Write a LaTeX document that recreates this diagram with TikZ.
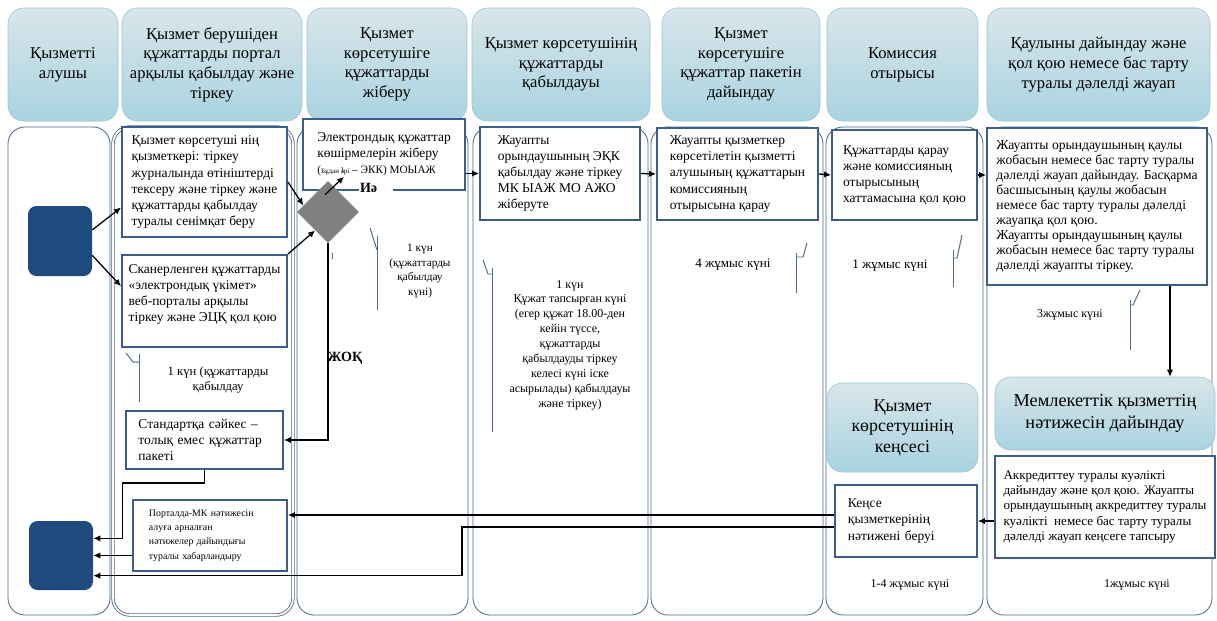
\documentclass[tikz,border=0pt]{standalone}
\usepackage{fontspec}
\setmainfont{Liberation Serif}
\usepackage{tikz}
\usetikzlibrary{positioning,calc,shapes.geometric,arrows.meta}
\definecolor{lanegrey}{rgb}{0.31,0.42,0.56}
\definecolor{boxblue}{rgb}{0.23,0.37,0.56}
\definecolor{clientblue}{rgb}{0.12,0.29,0.49}
\definecolor{hdrtop}{rgb}{0.85,0.90,0.92}
\definecolor{hdrbottom}{rgb}{0.66,0.83,0.88}
\definecolor{hdrline}{rgb}{0.62,0.76,0.82}
\definecolor{diagrey}{rgb}{0.50,0.50,0.50}
\tikzstyle{lane} = [draw=lanegrey, rounded corners=12pt, fill=white, line width=0.6pt]
\tikzstyle{hdr} = [draw=hdrline, rounded corners=11pt, top color=hdrtop, bottom color=hdrbottom, align=center, font=\fontsize{11.8}{14}\selectfont]
\tikzstyle{stepbox} = [draw=boxblue, line width=1.3pt, fill=white, align=left, font=\fontsize{9.6}{11.4}\selectfont]
\tikzstyle{client} = [fill=clientblue, rounded corners=6pt]
\tikzstyle{note} = [align=center, font=\fontsize{8.5}{10.6}\selectfont]
\tikzstyle{callout} = [draw=lanegrey, line width=0.7pt]
\tikzstyle{arrow} = [line width=0.9pt, -{Latex[length=5pt,width=4.5pt]}]
\tikzset{sz/.style 2 args={minimum width=#1*0.025cm, minimum height=#2*0.025cm}}

\begin{document}
\begin{tikzpicture}[x=0.025cm, y=-0.025cm]
\path[use as bounding box, fill=white] (0,0) rectangle (1217,620);
\node[hdr, sz={110}{113}] (h1) at (63,64.5) {Қызметті\\алушы};
\node[hdr, sz={180}{113}] (h2) at (212,64.5) {Қызмет берушіден\\құжаттарды портал\\арқылы қабылдау және\\тіркеу};
\node[hdr, sz={160}{113}] (h3) at (387,64.5) {Қызмет\\көрсетушіге\\құжаттарды\\жіберу};
\node[hdr, sz={178}{113}] (h4) at (561,64.5) {Қызмет көрсетушінің\\құжаттарды\\қабылдауы};
\node[hdr, sz={158}{113}] (h5) at (741,64.5) {Қызмет\\көрсетушіге\\құжаттар пакетін\\дайындау};
\node[hdr, sz={151}{113}] (h6) at (902.5,64.5) {Комиссия\\отырысы};
\node[hdr, sz={223}{113}] (h7) at (1098.5,64.5) {Қаулыны дайындау және\\қол қою немесе бас тарту\\туралы дәлелді жауап};
\node[lane, sz={102}{488}] (l1) at (59,371) {};
\node[lane, sz={180}{488}, double=white, double distance=1.2pt] (l2) at (203,371) {};
\node[lane, sz={171}{488}] (l3) at (382.5,371) {};
\node[lane, sz={175}{488}] (l4) at (560.5,371) {};
\node[lane, sz={172}{488}] (l5) at (737,371) {};
\node[lane, sz={157}{488}] (l6) at (904.5,371) {};
\node[lane, sz={225}{488}] (l7) at (1099.5,371) {};
\node[client, sz={64}{70}] (cA) at (60,241) {};
\node[client, sz={64}{69}] (cB) at (61,555.5) {};
\node[stepbox, sz={165}{110}] (box1) at (204.5,182) {Қызмет көрсетуші нің\\қызметкері: тіркеу\\журналында өтініштерді\\тексеру және тіркеу және\\құжаттарды қабылдау\\туралы сенімқат беру};
\node[stepbox, sz={165}{92}] (box2) at (204.5,301) {Сканерленген құжаттарды\\«электрондық үкімет»\\веб-порталы арқылы\\тіркеу және ЭЦҚ қол қою\\ \mbox{}};
\node[stepbox, sz={157}{58}, text width=3.3cm] (box3) at (204.5,440) {Стандартқа сәйкес –\\толық емес құжаттар\\пакеті};
\node[stepbox, sz={154}{71}, text width=3.05cm, font=\fontsize{7}{10.2}\selectfont] (box4) at (210,535.5) {Порталда-МК нәтижесін\\алуға арналған\\нәтижелер дайындығы\\туралы хабарландыру};
\node[stepbox, sz={162}{71}] (box5) at (384,154.5) {Электрондық құжаттар\\көшірмелерін жіберу\\{\fontsize{8}{10}\selectfont({\fontsize{5}{6}\selectfont Бұдан әрі} – ЭКК) МОЫАЖ}};
\node[stepbox, sz={160}{93}] (box6) at (560,173.5) {Жауапты\\орындаушының ЭҚК\\қабылдау және тіркеу\\МК ЫАЖ МО АЖО\\жіберуте};
\node[stepbox, sz={161}{92}] (box7) at (737.5,174) {Жауапты қызметкер\\көрсетілетін қызметті\\алушының құжаттарын\\комиссияның\\отырысына қарау};
\node[stepbox, sz={145}{90}] (box8) at (904.5,175) {Құжаттарды қарау\\және комиссияның\\отырысының\\хаттамасына қол қою};
\node[stepbox, sz={220}{157}, font=\fontsize{9.7}{10.6}\selectfont] (box9) at (1097,206.5) {Жауапты орындаушының қаулы\\жобасын немесе бас тарту туралы\\дәлелді жауап дайындау. Басқарма\\басшысының қаулы жобасын\\немесе бас тарту туралы дәлелді\\жауапқа қол қою.\\Жауапты орындаушының қаулы\\жобасын немесе бас тарту туралы\\дәлелді жауапты тіркеу.};
\node[hdr, sz={220}{73}, font=\fontsize{13}{15.5}\selectfont] (res) at (1105,413.5) {Мемлекеттік қызметтің\\нәтижесін дайындау};
\node[stepbox, sz={220}{102}, font=\fontsize{9.3}{10.8}\selectfont] (box10) at (1105,507) {Аккредиттеу туралы куәлікті\\дайындау және қол қою. Жауапты\\орындаушының аккредиттеу туралы\\куәлікті \ немесе бас тарту туралы\\дәлелді жауап кеңсеге тапсыру};
\node[hdr, sz={151}{89}, font=\fontsize{12.7}{14.5}\selectfont] (office) at (902.5,427.5) {Қызмет\\көрсетушінің\\кеңсесі};
\node[stepbox, sz={142}{72}, text width=2.9cm] (box11) at (906,521) {Кеңсе\\қызметкерінің\\нәтижені беруі};
\node[diamond, fill=diagrey, sz={62}{62}, inner sep=0pt] (dia) at (328,212) {};
\node[fill=white, text width=0.8cm, align=left, inner sep=1pt, font=\bfseries\fontsize{10}{12}\selectfont] (yes) at (376,188) {Иә};
\node[font=\bfseries\fontsize{10}{12}\selectfont] (no) at (345,358) {ЖОҚ};
\node[font=\tiny] (br1) at (342,171) {]};
\node[font=\tiny] (br2) at (332,257) {]};
\node[note, font=\fontsize{9}{11}\selectfont] (n1) at (218,380) {1 күн (құжаттарды\\қабылдау};
\node[note, font=\fontsize{8}{10.3}\selectfont] (n2) at (420,271) {1 күн\\(құжаттарды\\қабылдау\\күні)};
\node[note] (n3) at (570,345) {1 күн\\Құжат тапсырған күні\\(егер құжат 18.00-ден\\кейін түссе,\\құжаттарды\\қабылдауды тіркеу\\келесі күні іске\\асырылады) қабылдауы\\және тіркеу)};
\node[note, font=\fontsize{9.3}{11}\selectfont] (n4) at (733,265) {4 жұмыс күні};
\node[note, font=\fontsize{9.3}{11}\selectfont] (n5) at (890,266) {1 жұмыс күні};
\node[note] (n6) at (1070,315) {3жұмыс күні};
\node[note] (n7) at (910,585) {1-4 жұмыс күні};
\node[note] (n8) at (1137,585) {1жұмыс күні};
\draw[callout] (126,353) -- (133,362) -- (139,362);
\draw[callout] (139,354) -- (139,402);
\draw[callout] (370,228) -- (377,250);
\draw[callout] (377,236) -- (377,310);
\draw[callout] (483,260) -- (488,274) -- (492,274);
\draw[callout] (492,268) -- (492,432);
\draw[callout] (807,243) -- (803,257) -- (796,257);
\draw[callout] (796,253) -- (796,293);
\draw[callout] (962,235) -- (957,258) -- (953,258);
\draw[callout] (953,250) -- (953,287);
\draw[callout] (1140,290) -- (1133,305) -- (1130,305);
\draw[callout] (1130,300) -- (1130,350);
\draw[arrow] (cA.19) -- (box1.197);
\draw[arrow] (cA.-24) -- (box2.170);
\draw[arrow] (box1.east) -- (dia.165);
\draw[arrow] (box2.north east) -- (dia.235);
\draw[arrow] (dia.north) ++(-3,14) -- ++(19,-18);
\draw[arrow] (dia.south) |- (box3.east);
\draw[arrow] (box5.east |- box6.west) -- (box6.west);
\draw[arrow] (box6.east) -- (box7.west);
\draw[arrow] (box7.east) -- (box8.west);
\draw[arrow] (box8.east) -- (box8.east -| box9.west);
\coordinate (d9) at ($(box9.south)+(73,0)$);
\draw[arrow] (d9) -- (d9 |- res.north);
\draw[arrow] (box10.west |- box11.east) -- (box11.east);
\coordinate (k1) at ($(box11.west)+(0,-6)$);
\coordinate (k2) at ($(box11.west)+(0,6)$);
\draw[arrow] (k1) -- (k1 -| box4.east);
\draw[arrow] (k2) -- ++(-372,0) |- (cB.-32);
\draw[arrow] (box3.south) -- ++(0,13) -| ($(cB.28)+(29,0)$) -- (cB.28);
\draw[arrow] (box4.west |- cB.east) -- (cB.east);
\end{tikzpicture}
\end{document}
